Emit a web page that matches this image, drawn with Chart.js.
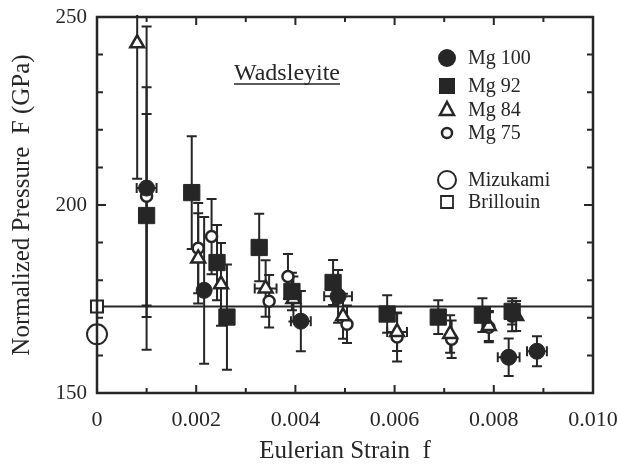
<!DOCTYPE html>
<html lang="en">
<head>
<meta charset="UTF-8">
<title>Wadsleyite</title>
<script src="https://cdn.jsdelivr.net/npm/chart.js"></script>
<style>
  html, body { margin: 0; padding: 0; background: #fff; }
</style>
</head>
<body>
<canvas id="chart" width="618" height="465"></canvas>
<script>
// values
const mg100Strain = [0.00100, 0.00216, 0.00411, 0.00486, 0.00830, 0.00887];
const mg100F      = [204.5, 177.3, 169.1, 175.7, 159.5, 161.1];
const mg100Err    = [43, 19.5, 8, 7, 5, 4];
const mg100StrainErr = [0.0002, 0.0001, 0.0002, 0.00028, 0.00022, 0.0002];

const mg92Strain = [0.00100, 0.00191, 0.00242, 0.00262, 0.00327, 0.00393, 0.00476, 0.00585, 0.00688, 0.00777, 0.00837];
const mg92F      = [197.2, 203.3, 184.7, 170.2, 188.7, 177.0, 179.4, 171.0, 170.2, 170.7, 171.7];
const mg92Err    = [27, 15, 10, 14, 9, 5, 6, 5, 4.5, 4.5, 3.5];

const mg84Strain = [0.00081, 0.00204, 0.00250, 0.00340, 0.00396, 0.00496, 0.00605, 0.00712, 0.00790, 0.00845];
const mg84F      = [243, 185.8, 178.9, 177.8, 175.0, 170.4, 166.2, 165.7, 167.8, 170.5];
const mg84Err    = [36, 12, 11, 7.5, 6, 6, 5, 5, 4, 4];
const mg84StrainErr = [0, 0, 0, 0.00022, 0, 0, 0.0002, 0, 0, 0];

const mg75Strain = [0.00100, 0.00204, 0.00231, 0.00347, 0.00385, 0.00504, 0.00605, 0.00715, 0.00790, 0.00837];
const mg75F      = [202.3, 188.5, 191.6, 174.4, 181.0, 168.3, 164.9, 164.3, 167.5, 170.4];
const mg75Err    = [29, 12, 10, 7, 6, 5, 6.5, 5, 4, 4];

const mizukamiF = 165.6;
const brillouinF = 173;
const fitF = 173;

const xTickLabels = ['0', '0.002', '0.004', '0.006', '0.008', '0.010'];
const yTickLabels = ['150', '200', '250'];

const ink = '#262626';
const serif = '"Liberation Serif", "DejaVu Serif", serif';

function pts(xs, ys) {
    return xs.map((v, i) => ({ x: v, y: ys[i] }));
}

const series = [
    { f: mg100Strain, F: mg100F, dF: mg100Err, df: mg100StrainErr },
    { f: mg92Strain, F: mg92F, dF: mg92Err, df: [] },
    { f: mg84Strain, F: mg84F, dF: mg84Err, df: mg84StrainErr },
    { f: mg75Strain, F: mg75F, dF: mg75Err, df: [] }
];

// error bars go under the markers
const errorBars = {
    id: 'errorBars',
    beforeDatasetsDraw(chart) {
        const { ctx, chartArea: a, scales: { x, y } } = chart;
        ctx.save();
        ctx.beginPath();
        ctx.rect(a.left, a.top - 2, a.right - a.left, a.bottom - a.top + 2);
        ctx.clip();
        ctx.strokeStyle = ink;
        ctx.lineWidth = 2;
        const cap = 5;
        series.forEach(s => {
            s.f.forEach((fv, i) => {
                const px = x.getPixelForValue(fv);
                const py = y.getPixelForValue(s.F[i]);
                const e = s.dF[i];
                if (e) {
                    const t = y.getPixelForValue(s.F[i] + e);
                    const b = y.getPixelForValue(s.F[i] - e);
                    ctx.beginPath();
                    ctx.moveTo(px, t); ctx.lineTo(px, b);
                    ctx.moveTo(px - cap, t); ctx.lineTo(px + cap, t);
                    ctx.moveTo(px - cap, b); ctx.lineTo(px + cap, b);
                    ctx.stroke();
                }
                const h = s.df[i];
                if (h) {
                    const l = x.getPixelForValue(fv - h);
                    const r = x.getPixelForValue(fv + h);
                    ctx.beginPath();
                    ctx.moveTo(l, py); ctx.lineTo(r, py);
                    ctx.moveTo(l, py - cap); ctx.lineTo(l, py + cap);
                    ctx.moveTo(r, py - cap); ctx.lineTo(r, py + cap);
                    ctx.stroke();
                }
            });
        });
        ctx.restore();
    }
};

function marker(ctx, style, x, y) {
    ctx.beginPath();
    if (style === 'bigcircle') {
        ctx.arc(x, y, 9, 0, Math.PI * 2);
        ctx.fill();
    } else if (style === 'bigrect') {
        ctx.rect(x - 8, y - 8, 16, 16);
        ctx.fill();
    } else if (style === 'tri') {
        ctx.moveTo(x, y - 8); ctx.lineTo(x + 7, y + 5); ctx.lineTo(x - 7, y + 5); ctx.closePath();
        ctx.lineWidth = 2.5; ctx.stroke();
    } else if (style === 'smallcircle') {
        ctx.arc(x, y, 5, 0, Math.PI * 2);
        ctx.lineWidth = 2.5; ctx.stroke();
    } else if (style === 'opencircle') {
        ctx.arc(x, y, 9, 0, Math.PI * 2);
        ctx.lineWidth = 2; ctx.stroke();
    } else if (style === 'openrect') {
        ctx.rect(x - 6, y - 6, 12, 12);
        ctx.lineWidth = 1.8; ctx.stroke();
    }
}

// frame, inward ticks, title and key
const frame = {
    id: 'frame',
    afterDraw(chart) {
        const { ctx, chartArea: a, scales: { x, y } } = chart;
        ctx.save();
        ctx.strokeStyle = ink;
        ctx.lineWidth = 2.5;
        ctx.strokeRect(a.left, a.top, a.right - a.left, a.bottom - a.top);
        ctx.lineWidth = 2;
        ctx.beginPath();
        x.ticks.forEach((t, i) => {
            const px = x.getPixelForValue(t.value);
            const len = (i % 2 === 0) ? 8 : 5;
            ctx.moveTo(px, a.bottom); ctx.lineTo(px, a.bottom - len);
            ctx.moveTo(px, a.top); ctx.lineTo(px, a.top + len);
        });
        y.ticks.forEach((t, i) => {
            const py = y.getPixelForValue(t.value);
            const len = (i % 5 === 0) ? 9 : 6;
            ctx.moveTo(a.left, py); ctx.lineTo(a.left + len, py);
            ctx.moveTo(a.right, py); ctx.lineTo(a.right - len, py);
        });
        ctx.stroke();

        // panel title
        ctx.fillStyle = ink;
        ctx.font = '24px ' + serif;
        ctx.textAlign = 'center';
        ctx.textBaseline = 'alphabetic';
        const tx = 287, ty = 80;
        ctx.fillText('Wadsleyite', tx, ty);
        const w = ctx.measureText('Wadsleyite').width;
        ctx.lineWidth = 1.5;
        ctx.beginPath();
        ctx.moveTo(tx - w / 2, ty + 4); ctx.lineTo(tx + w / 2, ty + 4);
        ctx.stroke();

        // key
        const key = [
            ['bigcircle', 'Mg 100', 58],
            ['bigrect', 'Mg 92', 86],
            ['tri', 'Mg 84', 110],
            ['smallcircle', 'Mg 75', 133],
            ['opencircle', 'Mizukami', 180],
            ['openrect', 'Brillouin', 202]
        ];
        ctx.font = '20px ' + serif;
        ctx.textAlign = 'left';
        ctx.textBaseline = 'middle';
        key.forEach(k => {
            ctx.fillStyle = ink;
            ctx.strokeStyle = ink;
            marker(ctx, k[0], 447, k[2]);
            ctx.fillStyle = ink;
            ctx.fillText(k[1], 468, k[2] + 1);
        });
        ctx.restore();
    }
};

new Chart(document.getElementById('chart'), {
    type: 'scatter',
    data: {
        datasets: [
            { label: 'Mg 100', data: pts(mg100Strain, mg100F), pointStyle: 'circle', pointRadius: 8,
              backgroundColor: ink, borderColor: ink, borderWidth: 1 },
            { label: 'Mg 92', data: pts(mg92Strain, mg92F), pointStyle: 'rect', pointRadius: 11.5,
              backgroundColor: ink, borderColor: ink, borderWidth: 1 },
            { label: 'Mg 84', data: pts(mg84Strain, mg84F), pointStyle: 'triangle', pointRadius: 8,
              backgroundColor: '#fff', borderColor: ink, borderWidth: 2.5 },
            { label: 'Mg 75', data: pts(mg75Strain, mg75F), pointStyle: 'circle', pointRadius: 5.5,
              backgroundColor: '#fff', borderColor: ink, borderWidth: 2.5 },
            { label: 'Mizukami', data: [{ x: 0, y: mizukamiF }], pointStyle: 'circle', pointRadius: 10,
              backgroundColor: '#fff', borderColor: ink, borderWidth: 2 },
            { label: 'Brillouin', data: [{ x: 0, y: brillouinF }], pointStyle: 'rect', pointRadius: 8.5,
              backgroundColor: '#fff', borderColor: ink, borderWidth: 2 },
            { type: 'line', label: 'fit', data: [{ x: 0, y: fitF }, { x: 0.010, y: fitF }],
              borderColor: ink, borderWidth: 2, pointRadius: 0, fill: false }
        ]
    },
    options: {
        responsive: false,
        animation: false,
        clip: false,
        layout: { padding: { left: 0, right: 25, top: 17, bottom: 0 } },
        plugins: { legend: { display: false }, tooltip: { enabled: false } },
        scales: {
            x: {
                type: 'linear', min: 0, max: 0.010,
                grid: { display: false, drawTicks: false }, border: { display: false },
                afterFit(scale) {
                    scale.height = 72;
                    scale.paddingLeft = 0;
                    scale.paddingRight = 0;
                },
                ticks: {
                    stepSize: 0.001, autoSkip: false, maxRotation: 0, padding: 14,
                    color: ink, font: { family: serif, size: 22 },
                    callback(v) {
                        const i = Math.round(v / 0.001);
                        return i % 2 === 0 ? xTickLabels[i / 2] : '';
                    }
                },
                title: { display: true, text: 'Eulerian Strain  f', color: ink,
                         font: { family: serif, size: 25, lineHeight: 1 }, padding: { top: 0, bottom: 1 } }
            },
            y: {
                type: 'linear', min: 150, max: 250,
                grid: { display: false, drawTicks: false }, border: { display: false },
                afterFit(scale) {
                    scale.width = 97;
                    scale.paddingTop = 0;
                    scale.paddingBottom = 0;
                },
                ticks: {
                    stepSize: 10, autoSkip: false, padding: 10,
                    color: ink, font: { family: serif, size: 21 },
                    callback(v) {
                        const i = Math.round((v - 150) / 10);
                        return i % 5 === 0 ? yTickLabels[i / 5] : '';
                    }
                },
                title: { display: true, text: 'Normalized Pressure  F (GPa)', color: ink,
                         font: { family: serif, size: 25, lineHeight: 1 }, padding: { top: 10, bottom: 0 } }
            }
        }
    },
    plugins: [errorBars, frame]
});
</script>
</body>
</html>
